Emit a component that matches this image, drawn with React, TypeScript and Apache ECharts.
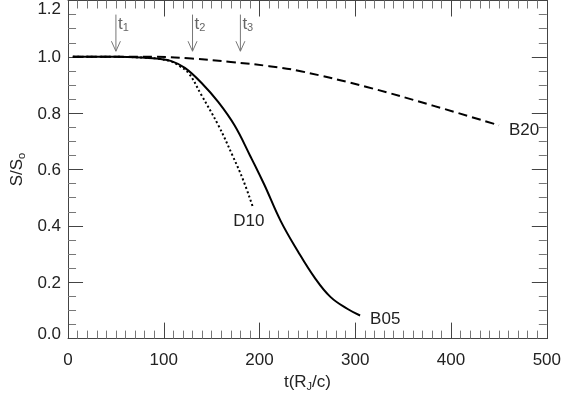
import React, { useEffect, useRef } from "react";
import * as echarts from "echarts";

// B05 (solid)
const b05: [number, number][] = [
  [5, 1.0], [50, 1.0], [80, 0.997], [95, 0.993], [108, 0.985], [122, 0.961],
  [139, 0.909], [157, 0.839], [174, 0.756], [190, 0.65], [205, 0.546],
  [222, 0.418], [240, 0.31], [257, 0.219], [274, 0.148], [292, 0.105], [305, 0.082],
];
// D10 (dotted)
const d10: [number, number][] = [
  [5, 1.0], [50, 1.0], [80, 0.997], [95, 0.993], [108, 0.983], [116, 0.968],
  [126, 0.942], [139, 0.866], [157, 0.757], [172, 0.648], [183, 0.562], [193, 0.467],
];
// B20 (dashed)
const b20: [number, number][] = [
  [5, 1.0], [90, 1.0], [129, 0.994], [170, 0.982], [210, 0.967], [243, 0.949],
  [312, 0.893], [381, 0.827], [450, 0.757],
];
// arrows: time, top, tip, index
const arrowTimes = [50, 130, 180];
const arrowTop = 1.15;
const arrowTip = 1.02;
const arrowNames = ["1", "2", "3"];

const FONT = "Liberation Sans";
const AX = "#444";

export default function App() {
  const ref = useRef<HTMLDivElement>(null);
  useEffect(() => {
    if (!ref.current) return;
    const chart = echarts.init(ref.current, null, { renderer: "svg" });
    const axLine = (onZero: boolean) => ({ show: true, onZero, lineStyle: { color: AX, width: 1 } });
    const subRich = {
      a: { fontSize: 17, lineHeight: 20, color: "#222", fontFamily: FONT },
      s: { fontSize: 11, lineHeight: 11, verticalAlign: "bottom", color: "#222", fontFamily: FONT },
    };
    const lbl = { fontSize: 17, color: "#222", fontFamily: FONT };
    const xTick = () => ({ show: true, inside: true, length: 16, lineStyle: { color: AX, width: 1 } });
    const xMinor = () => ({ show: true, splitNumber: 10, length: 8, lineStyle: { color: "#777", width: 1 } });
    const yTick = () => ({ show: true, inside: true, length: 15, lineStyle: { color: AX, width: 1 } });
    const yMinor = () => ({ show: true, splitNumber: 4, length: 8, lineStyle: { color: "#777", width: 1 } });
    chart.setOption({
      animation: false,
      textStyle: { fontFamily: FONT },
      grid: { left: 62, right: 17, top: 0, bottom: 50, containLabel: false },
      xAxis: [
        {
          type: "value", min: 0, max: 500, interval: 100, position: "bottom",
          axisLine: axLine(true), splitLine: { show: false },
          axisTick: xTick(), minorTick: xMinor(),
          axisLabel: { ...lbl, margin: 12 },
          name: "{a|t(R}{s|J}{a|/c)}",
          nameLocation: "middle",
          nameGap: 25,
          nameTextStyle: { rich: subRich },
        },
        {
          type: "value", min: 0, max: 500, interval: 100, position: "top",
          axisLine: axLine(false), splitLine: { show: false },
          axisTick: xTick(), minorTick: xMinor(),
          axisLabel: { show: false },
        },
      ],
      yAxis: [
        {
          type: "value", min: 0, max: 1.2, interval: 0.2, position: "left",
          axisLine: axLine(true), splitLine: { show: false },
          axisTick: yTick(), minorTick: yMinor(),
          axisLabel: {
            ...lbl, margin: 7,
            formatter: (v: number) => {
              const s = v.toFixed(1);
              if (v >= 1.19) return `{top|${s}}`;
              if (v <= 0.001) return `{bot|${s}}`;
              return `{n|${s}}`;
            },
            rich: {
              n: { ...lbl },
              top: { ...lbl, padding: [16, 0, 0, 0] },
              bot: { ...lbl, padding: [0, 0, 10, 0] },
            },
          },
          name: "{a|S/S}{s|o}",
          nameLocation: "middle",
          nameGap: 39,
          nameRotate: 90,
          nameTextStyle: { rich: subRich },
        },
        {
          type: "value", min: 0, max: 1.2, interval: 0.2, position: "right",
          axisLine: axLine(false), splitLine: { show: false },
          axisTick: yTick(), minorTick: yMinor(),
          axisLabel: { show: false },
        },
      ],
      series: [
        {
          type: "line", data: b20, showSymbol: false, smooth: 0.4,
          lineStyle: { color: "#000", width: 2, type: [9, 5] },
          endLabel: { show: true, formatter: "B20", ...lbl, distance: 10, offset: [0, 4] },
        },
        {
          type: "line", data: d10, showSymbol: false, smooth: 0.4,
          lineStyle: { color: "#000", width: 2, type: [2, 2.5] },
          endLabel: { show: true, formatter: "D10", ...lbl, distance: 0, align: "center", offset: [-4, 13] },
        },
        {
          type: "line", data: b05, showSymbol: false, smooth: 0.4,
          lineStyle: { color: "#000", width: 2 },
          endLabel: { show: true, formatter: "B05", ...lbl, distance: 10, offset: [0, 3] },
        },
        {
          type: "custom",
          data: arrowTimes.map((t, i) => [t, arrowTop, arrowTip, i]),
          renderItem: (params: any, api: any) => {
            const top = api.coord([api.value(0), api.value(1)]);
            const tip = api.coord([api.value(0), api.value(2)]);
            const idx = arrowNames[api.value(3)];
            return {
              type: "group",
              children: [
                {
                  type: "line",
                  shape: { x1: top[0], y1: top[1], x2: tip[0], y2: tip[1] },
                  style: { stroke: "#777", lineWidth: 1 },
                },
                {
                  type: "polyline",
                  shape: { points: [[tip[0] - 4.5, tip[1] - 10], [tip[0], tip[1]], [tip[0] + 4.5, tip[1] - 10]] },
                  style: { stroke: "#777", fill: null, lineWidth: 1 },
                },
                {
                  type: "text",
                  x: top[0] + 2,
                  y: top[1],
                  style: {
                    text: `{t|t}{s|${idx}}`,
                    verticalAlign: "top",
                    rich: {
                      t: { fontSize: 17, lineHeight: 18, fill: "#666", fontFamily: FONT },
                      s: { fontSize: 11, lineHeight: 11, verticalAlign: "bottom", fill: "#666", fontFamily: FONT },
                    },
                  },
                },
              ],
            };
          },
        },
      ],
    });
    return () => chart.dispose();
  }, []);
  return <div ref={ref} style={{ width: 564, height: 396, position: "fixed", left: 0, top: 0 }} />;
}
